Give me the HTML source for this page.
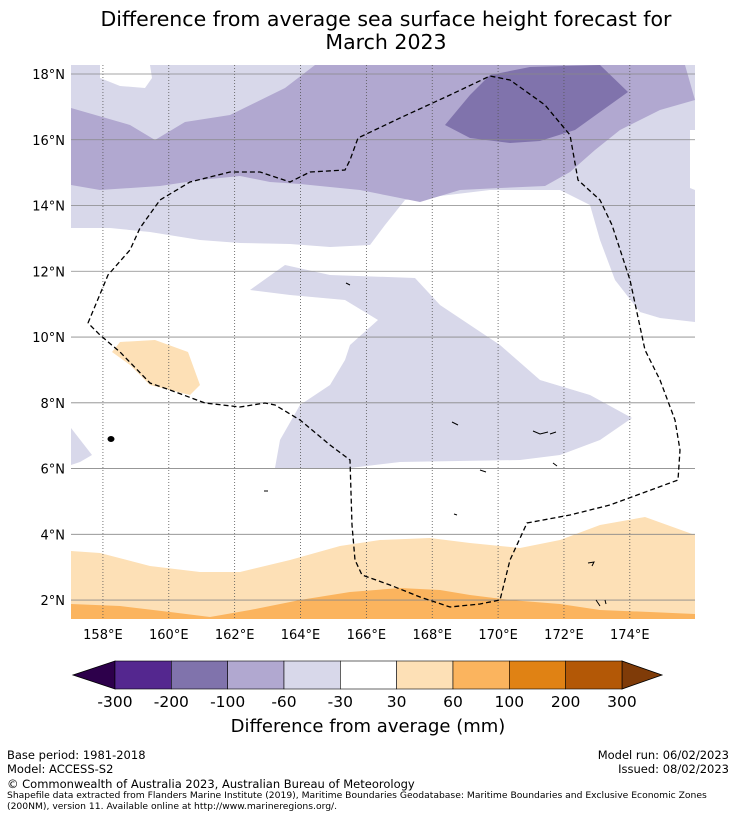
<!DOCTYPE html>
<html><head><meta charset="utf-8">
<style>
body{margin:0;background:#fff;font-family:"DejaVu Sans","Liberation Sans",sans-serif;}
#wrap{position:relative;width:736px;height:816px;overflow:hidden;}
.t{position:absolute;color:#000;white-space:nowrap;}
</style></head>
<body>
<div id="wrap">
<div class="t" style="left:0;width:772px;top:8px;text-align:center;font-size:20.5px;line-height:23px;">Difference from average sea surface height forecast for<br>March 2023</div>
<svg id="svg" width="736" height="816" style="position:absolute;left:0;top:0">
<defs><clipPath id="mc"><rect x="71" y="65" width="624" height="554"/></clipPath></defs>
<g clip-path="url(#mc)">
<rect x="71" y="65" width="624" height="554" fill="#fff"/>
<polygon fill="#d8d8ea" points="71,65 695,65 695,322 660,318 640,312 615,280 600,240 590,205 560,190 490,190 440,196 405,200 385,225 370,245 330,247 290,244 240,243 200,240 150,232 110,228 71,228"/>
<polygon fill="#fff" points="100,65 150,65 152,78 145,88 120,86 100,78"/>
<polygon fill="#fff" points="690,130 695,130 695,190 690,188"/>
<polygon fill="#b1a8d0" points="71,108 130,125 155,140 185,122 230,115 285,88 315,65 685,65 695,100 660,110 620,130 595,150 570,172 545,186 500,188 460,190 420,202 390,196 360,190 300,184 270,182 240,176 200,180 160,186 100,190 71,185"/>
<polygon fill="#8073ac" points="445,125 470,95 490,75 530,67 600,65 628,92 600,112 575,130 540,141 510,143 470,138"/>
<polygon fill="#d8d8ea" points="250,290 285,265 330,275 415,278 440,305 470,325 500,345 540,380 590,395 632,418 600,440 560,455 520,460 400,462 350,468 320,468 275,468 280,440 300,405 330,385 345,360 350,345 378,320 345,300 290,295"/>
<polygon fill="#d8d8ea" points="71,428 92,455 80,462 71,465"/>
<polygon fill="#fde0b6" points="120,342 155,340 188,352 200,385 190,395 150,385 130,365 112,352"/>
<polygon fill="#fde0b6" points="71,551 100,553 150,566 200,572 240,572 290,560 340,546 380,540 430,538 470,543 520,548 560,540 600,525 645,517 695,535 695,619 71,619"/>
<polygon fill="#fbb45e" points="71,604 120,606 170,612 210,617 250,610 300,600 350,592 400,588 440,590 470,595 510,600 560,604 600,610 650,612 695,614 695,619 71,619"/>
<g id="grid"></g>
<polyline fill="none" stroke="#000" stroke-width="1.3" stroke-dasharray="5,3" points="88,323 108,275 130,250 140,228 160,200 190,182 230,172 260,172 290,182 310,172 345,170 350,160 358,138 400,118 450,95 490,76 510,80 545,105 570,135 578,180 600,200 612,225 630,280 645,350 660,380 675,420 680,450 678,480 610,505 570,515 527,523 510,560 500,600 480,604 450,607 420,597 390,585 362,575 355,560 352,525 350,460 330,445 300,420 275,405 265,403 240,407 205,403 170,390 150,383 120,352 100,335 88,323"/>
<g fill="none" stroke="#000" stroke-width="1">
<ellipse cx="111" cy="439" rx="3" ry="2.5" fill="#000"/>
<path d="M533 431 L540 434 L548 432 M550 434 L556 432 M452 422 L458 425 M553 463 L557 466 M588 563 L594 562 L592 566 M596 600 L600 606 M605 600 L606 604 M264 491 L268 491 M454 514 L457 515 M480 470 L486 472 M346 283 L350 285"/>
</g>
</g>
<g id="axes"></g>
<g id="cbar"></g>
</svg>
<div class="t" style="left:0;width:736px;text-align:center;top:716px;font-size:18px;">Difference from average (mm)</div>
<div class="t" style="left:7px;top:748px;font-size:11.5px;line-height:14px;">Base period: 1981-2018<br>Model: ACCESS-S2</div>
<div class="t" style="right:7px;top:748px;font-size:11.5px;line-height:14px;text-align:right;">Model run: 06/02/2023<br>Issued: 08/02/2023</div>
<div class="t" style="left:7px;top:777px;font-size:11.5px;">© Commonwealth of Australia 2023, Australian Bureau of Meteorology</div>
<div class="t" style="left:7px;top:790px;font-size:9.2px;line-height:11px;">Shapefile data extracted from Flanders Marine Institute (2019), Maritime Boundaries Geodatabase: Maritime Boundaries and Exclusive Economic Zones<br>(200NM), version 11. Available online at http://www.marineregions.org/.</div>
</div>
<script>
const lonTicks=[158,160,162,164,166,168,170,172,174];
const latTicks=[2,4,6,8,10,12,14,16,18];
const cbarLabels=["-300","-200","-100","-60","-30","30","60","100","200","300"];
const cbarColors=["#54278f","#8073ac","#b1a8d0","#d8d8ea","#ffffff","#fde0b6","#fbb45e","#e08214","#b35806"];
const NS="http://www.w3.org/2000/svg";
const FF='DejaVu Sans, Liberation Sans, sans-serif';
function xLon(l){return 70+(l-157)*32.93;}
function yLat(l){return 74+(18-l)*32.88;}
function mk(t,a,p){const e=document.createElementNS(NS,t);for(const k in a)e.setAttribute(k,a[k]);p.appendChild(e);return e;}
const grid=document.getElementById('grid'),axes=document.getElementById('axes'),cb=document.getElementById('cbar');
lonTicks.forEach(l=>{const x=xLon(l);
 const g=mk('line',{x1:x,x2:x,y1:65,y2:619,stroke:'#555','stroke-width':0.8,'stroke-dasharray':'1,2'},grid);
 
 
 const t=mk('text',{x:x,y:639,'text-anchor':'middle','font-size':13,'font-family':FF},axes);t.textContent=l+'°E';
 
 });
latTicks.forEach(l=>{const y=yLat(l);
 const g=mk('line',{x1:71,x2:695,y1:y,y2:y,stroke:'#888','stroke-width':0.8},grid);
 
 
 const t=mk('text',{x:65,y:y+5,'text-anchor':'end','font-size':13,'font-family':FF},axes);t.textContent=l+'°N';
 
 });
const x0=115,w=56.33,y0=661,h=28;
const l=mk('polygon',{points:`${x0},${y0} ${x0},${y0+h} 73,${y0+h/2}`,fill:'#2d004b',stroke:'#000','stroke-width':0.8},cb);


const xe=x0+w*cbarColors.length;
const r=mk('polygon',{points:`${xe},${y0} ${xe},${y0+h} 662,${y0+h/2}`,fill:'#7f3b08',stroke:'#000','stroke-width':0.8},cb);


cbarColors.forEach((c,i)=>{const b=mk('rect',{x:x0+i*w,y:y0,width:w,height:h,fill:c,stroke:'#000','stroke-width':0.6},cb);
 
 });
cbarLabels.forEach((s,i)=>{const t=mk('text',{x:x0+i*w,y:707,'text-anchor':'middle','font-size':15.5,'font-family':FF},cb);t.textContent=s;
 
 });
</script>
</body></html>
